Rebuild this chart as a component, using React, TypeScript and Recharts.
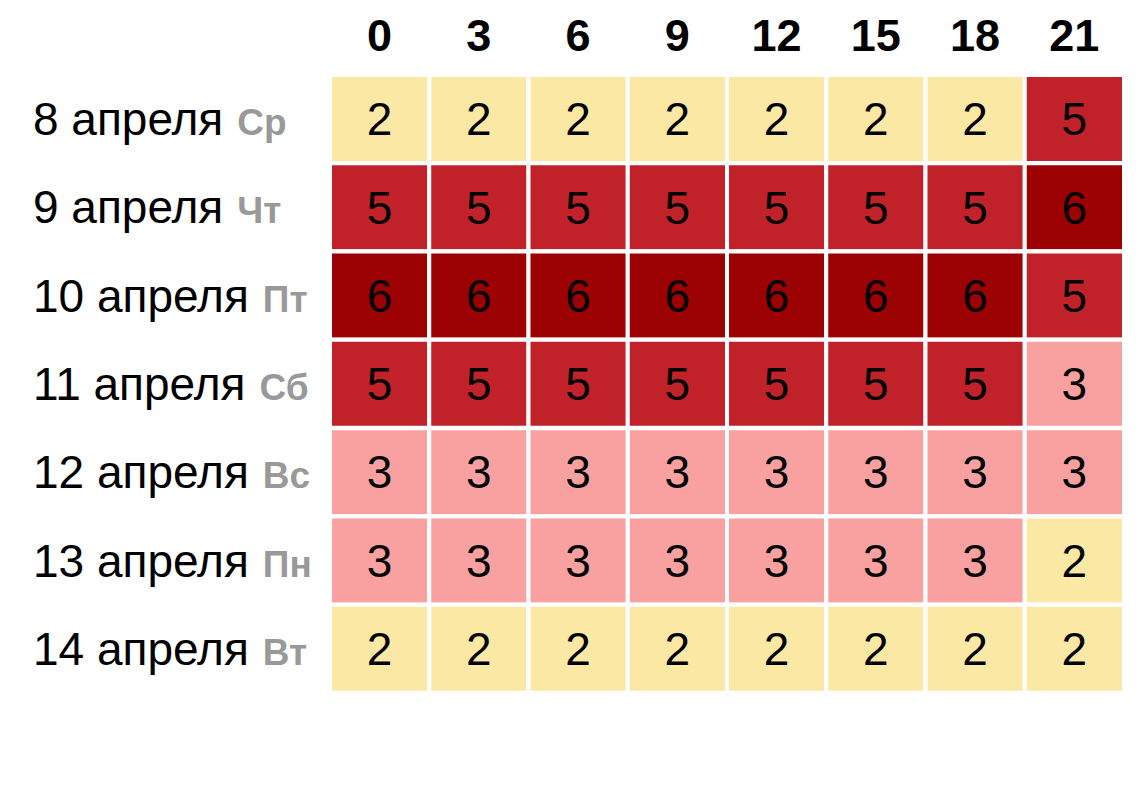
import React from 'react';
import { BarChart, Bar, XAxis, YAxis, Cell, LabelList } from 'recharts';

const hours = [0, 3, 6, 9, 12, 15, 18, 21];
const dates = ['8 апреля', '9 апреля', '10 апреля', '11 апреля', '12 апреля', '13 апреля', '14 апреля'];
const weekdays = ['Ср', 'Чт', 'Пт', 'Сб', 'Вс', 'Пн', 'Вт'];

const apr8 = [2, 2, 2, 2, 2, 2, 2, 5];
const apr9 = [5, 5, 5, 5, 5, 5, 5, 6];
const apr10 = [6, 6, 6, 6, 6, 6, 6, 5];
const apr11 = [5, 5, 5, 5, 5, 5, 5, 3];
const apr12 = [3, 3, 3, 3, 3, 3, 3, 3];
const apr13 = [3, 3, 3, 3, 3, 3, 3, 2];
const apr14 = [2, 2, 2, 2, 2, 2, 2, 2];
const levels = [apr8, apr9, apr10, apr11, apr12, apr13, apr14];

const levelColors: Record<number, string> = {
  2: '#FCE8A5',
  3: '#F8A1A0',
  5: '#C1222A',
  6: '#9C0103',
};

const rows = dates.map((d, r) => {
  const row: any = { date: d, wd: weekdays[r] };
  hours.forEach((_, i) => {
    row[`s${i}`] = 1;
    row[`v${i}`] = levels[r][i];
  });
  return row;
});

const FONT = '"Liberation Sans", Arial, sans-serif';

const XTick = (props: any) => {
  const { x, y, payload } = props;
  return (
    <text x={x} y={y - 16} textAnchor="middle" fontFamily={FONT} fontWeight="bold" fontSize={45} fill="#000">
      {hours[Math.floor(payload.value)]}
    </text>
  );
};

const YTick = (props: any) => {
  const { y, payload, index } = props;
  return (
    <text x={25} y={y} dy={16} textAnchor="start" fontFamily={FONT} fill="#000">
      <tspan fontSize={46}>{payload.value}</tspan>
      <tspan dx={14} fontSize={37} fontWeight="bold" fill="#999">{weekdays[index]}</tspan>
    </text>
  );
};

export default function App() {
  return (
    <div style={{ fontFamily: FONT }}>
      <BarChart
        width={1130}
        height={700}
        data={rows}
        layout="vertical"
        margin={{ top: 0, right: 14, bottom: 15, left: 0 }}
        barCategoryGap={0}
      >
        <XAxis
          type="number"
          orientation="top"
          domain={[0, 8]}
          ticks={[0.5, 1.5, 2.5, 3.5, 4.5, 5.5, 6.5, 7.5]}
          axisLine={false}
          tickLine={false}
          height={67}
          tick={<XTick />}
          interval={0}
        />
        <YAxis
          type="category"
          dataKey="date"
          width={322}
          axisLine={false}
          tickLine={false}
          tick={<YTick />}
          interval={0}
        />
        {hours.map((h, i) => (
          <Bar
            key={h}
            dataKey={`s${i}`}
            stackId="a"
            isAnimationActive={false}
            stroke="#fff"
            strokeWidth={4}
          >
            {rows.map((row, r) => (
              <Cell key={r} fill={levelColors[row[`v${i}`]]} />
            ))}
            <LabelList
              dataKey={`v${i}`}
              position="center"
              fill="#000"
              fontSize={46}
              fontFamily={FONT}
            />
          </Bar>
        ))}
      </BarChart>
    </div>
  );
}
